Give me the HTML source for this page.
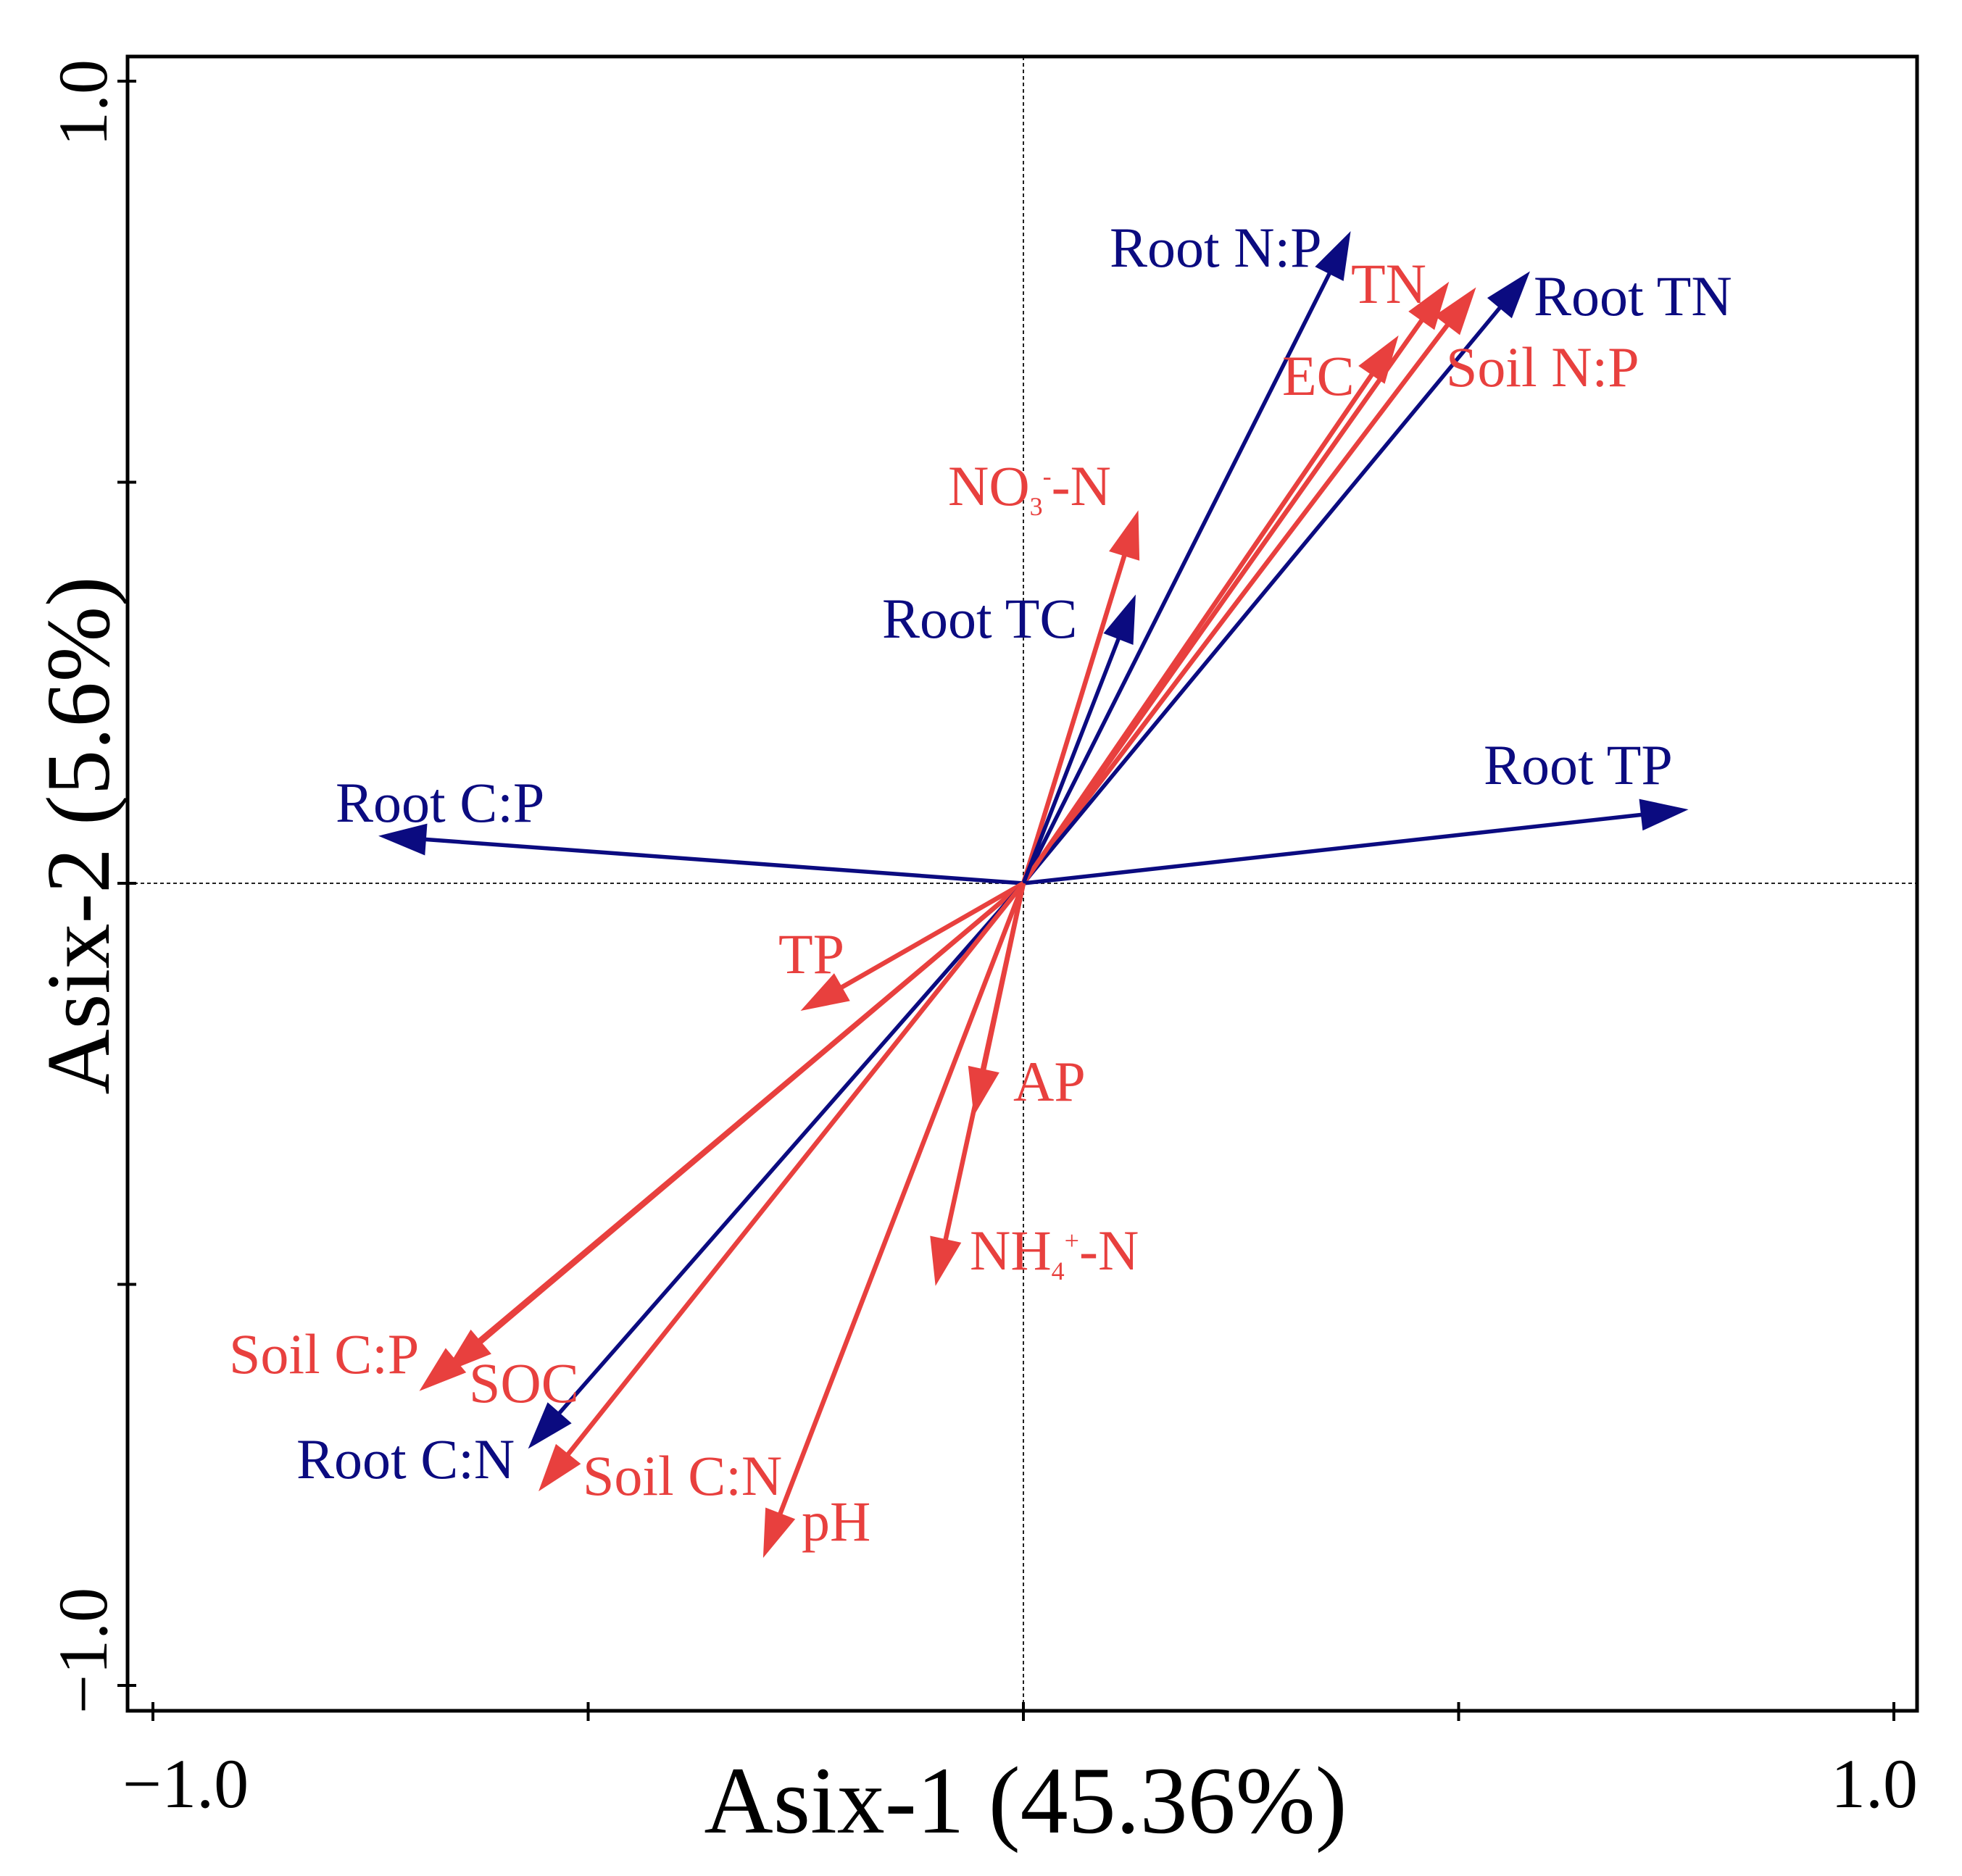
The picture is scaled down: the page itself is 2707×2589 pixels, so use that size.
<!DOCTYPE html>
<html><head><meta charset="utf-8">
<style>
html,body{margin:0;padding:0;background:#fff;}
svg{display:block;font-family:"Liberation Serif",serif;}
</style></head>
<body>
<svg id="chart" width="2707" height="2589" viewBox="0 0 2707 2589" xmlns="http://www.w3.org/2000/svg">
<rect x="0" y="0" width="2707" height="2589" fill="#fff"/>
<g id="plot"></g>
</svg>
<script>
const names = ["Root N:P","TN","Soil N:P","Root TN","EC","NO3-N","Root TC","Root TP","Root C:P","TP","AP","NH4-N","Soil C:P","SOC","Root C:N","Soil C:N","pH"];
const xVals = [0.376,0.489,0.520,0.582,0.431,0.132,0.129,0.764,-0.741,-0.256,-0.057,-0.101,-0.694,-0.665,-0.569,-0.557,-0.299];
const yVals = [0.813,0.750,0.743,0.763,0.683,0.465,0.360,0.092,0.059,-0.159,-0.290,-0.502,-0.633,-0.610,-0.705,-0.758,-0.841];
const groups = ["root","soil","soil","root","soil","soil","root","root","root","soil","soil","soil","soil","soil","root","soil","soil"];
const labelPos = [[1531,368],[1864,418],[1995,533],[2116,435],[1769,545],[1308,697],[1217,880],[2047,1082],[463,1134],[1074,1343],[1398,1519],[1338,1752],[316,1895],[647,1935],[409,2040],[804,2063],[1106,2126]];
const xTicks = [-1,-0.5,0,0.5,1];
const yTicks = [-1,-0.5,0,0.5,1];
const xTickLabels = ["\u22121.0","1.0"];
const yTickLabels = ["\u22121.0","1.0"];

const NS="http://www.w3.org/2000/svg";
const X0=1412, XS=1201, Y0=1219, YS=1107;
const L=176,R=2645,T=78,B=2361;
function sx(v){return X0+v*XS;}
function sy(v){return Y0-v*YS;}
const g=document.getElementById('plot');
function mk(tag,attrs,parent){const e=document.createElementNS(NS,tag);for(const k in attrs)e.setAttribute(k,attrs[k]);(parent||g).appendChild(e);return e;}

let e=mk('line',{x1:sx(0),y1:T,x2:sx(0),y2:B,stroke:'#222','stroke-width':2,'stroke-dasharray':'5,4'});


e=mk('line',{x1:L,y1:sy(0),x2:R,y2:sy(0),stroke:'#222','stroke-width':2,'stroke-dasharray':'5,4'});



const colors={root:'#0b0b80',soil:'#e8403e'};
for(let i=0;i<names.length;i++){
  const c=colors[groups[i]];
  const x1=sx(xVals[i]),y1=sy(yVals[i]);
  const dx=x1-X0,dy=y1-Y0,len=Math.hypot(dx,dy),ux=dx/len,uy=dy/len;
  const hl=66,hw=22;
  const bx=x1-ux*hl,by=y1-uy*hl;
  const grp=mk('g',{});
  
  
  mk('line',{x1:X0,y1:Y0,x2:bx+ux*10,y2:by+uy*10,stroke:c,'stroke-width':groups[i]==='root'?5.5:6.5},grp);
  mk('polygon',{points:`${x1},${y1} ${bx-uy*hw},${by+ux*hw} ${bx+uy*hw},${by-ux*hw}`,fill:c},grp);
}

for(let i=0;i<names.length;i++){
  const c=colors[groups[i]];
  const t=mk('text',{x:labelPos[i][0],y:labelPos[i][1],fill:c,'font-size':78});
  
  
  if(names[i]==='NO3-N'){
    t.innerHTML='NO<tspan font-size="36" dy="14">3</tspan><tspan font-size="36" dy="-42">-</tspan><tspan dy="28">-N</tspan>';
  } else if(names[i]==='NH4-N'){
    t.innerHTML='NH<tspan font-size="36" dy="14">4</tspan><tspan font-size="36" dy="-42">+</tspan><tspan dy="28">-N</tspan>';
  } else t.textContent=names[i];
}

e=mk('rect',{x:L,y:T,width:R-L,height:B-T,fill:'none',stroke:'#000','stroke-width':5});


xTicks.forEach(v=>{const t=mk('line',{x1:sx(v),y1:B-12,x2:sx(v),y2:B+14,stroke:'#000','stroke-width':4});

});
yTicks.forEach(v=>{const t=mk('line',{x1:L-14,y1:sy(v),x2:L+12,y2:sy(v),stroke:'#000','stroke-width':4});

});
[[xTickLabels[0],sx(-1)+45],[xTickLabels[1],sx(1)-27]].forEach(p=>{
 const t=mk('text',{x:p[1],y:2494,'font-size':96,'text-anchor':'middle',fill:'#000'});
 
 
 t.textContent=p[0];});
[[yTickLabels[0],2278],[yTickLabels[1],142]].forEach(p=>{
 const t=mk('text',{x:0,y:0,'font-size':96,'text-anchor':'middle',fill:'#000',transform:`translate(147,${p[1]}) rotate(-90)`});
 
 
 t.textContent=p[0];});
e=mk('text',{x:1415,y:2529,'font-size':132,'text-anchor':'middle',fill:'#000'});


e.textContent='Asix-1 (45.36%)';
e=mk('text',{x:0,y:0,'font-size':125,'text-anchor':'middle',fill:'#000',transform:'translate(150,1153) rotate(-90)'});


e.textContent='Asix-2 (5.6%)';
</script>
</body></html>
